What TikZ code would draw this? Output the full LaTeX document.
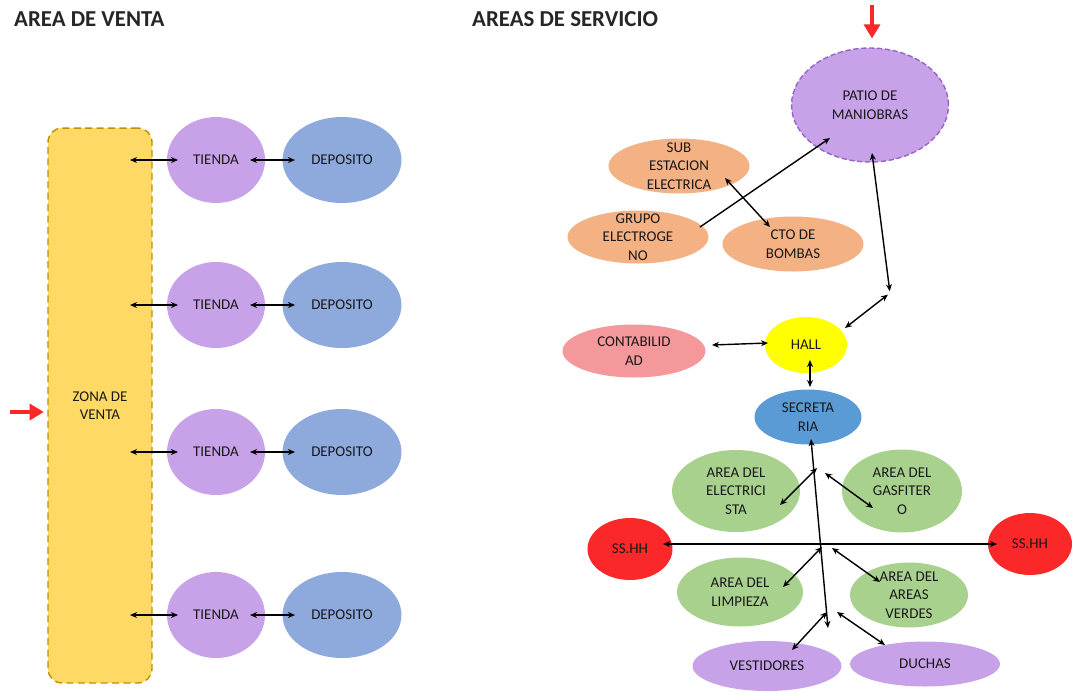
\documentclass[tikz,border=0pt]{standalone}
\usepackage{fontspec}
\setmainfont{Carlito}
\usepackage{tikz}
\usetikzlibrary{
    arrows.meta,
    calc,
    shapes.geometric
}
\definecolor{lila}{RGB}{200,162,232}
\definecolor{lilab}{RGB}{150,100,200}
\definecolor{azul}{RGB}{142,169,219}
\definecolor{zonaf}{RGB}{255,217,102}
\definecolor{zonab}{RGB}{191,144,0}
\definecolor{naranja}{RGB}{244,177,131}
\definecolor{rosa}{RGB}{245,152,155}
\definecolor{amarillo}{RGB}{255,255,0}
\definecolor{celeste}{RGB}{91,155,213}
\definecolor{verde}{RGB}{169,209,142}
\definecolor{rojo}{RGB}{250,40,40}

\begin{document}
\begin{tikzpicture}[x=0.02cm,y=-0.02cm,
   ell/.style={ellipse,draw=none,inner sep=0pt},
   sz/.style 2 args={minimum width=#1cm,minimum height=#2cm},
   tnd/.style={ell,fill=lila,sz={1.96}{1.72}},
   dep/.style={ell,fill=azul,sz={2.38}{1.72}},
   every label/.style={align=center,font=\fontsize{8.5}{10.5}\selectfont,text=black!90},
   dbl/.style={{Stealth[length=4pt,width=3.4pt]}-{Stealth[length=4pt,width=3.4pt]},line width=0.8pt},
   entry/.style={-{Triangle[length=8pt,width=9pt]},line width=2.4pt,draw=rojo},
   ttl/.style={anchor=west,font=\fontsize{13}{15}\selectfont\bfseries,text=black!85}]
  \useasboundingbox (0,0) rectangle (1076,691);
  % titles
  \node[ttl](tv) at (8,19){AREA DE VENTA};
  \node[ttl](ts) at (466,19){AREAS DE SERVICIO};
  % area de venta
  \node[draw=zonab,fill=zonaf,line width=0.8pt,dash pattern=on 4pt off 2.5pt,rounded corners=8pt,
        sz={2.08}{11.1},align=center,font=\fontsize{8.5}{10.5}\selectfont,text=black!90]
        (zona) at (100,405.5){ZONA DE\\VENTA};
  \coordinate (inv) at (10,412);
  \draw[entry,shorten >=2pt] (inv) -- (inv -| zona.west);
  \node[tnd,label=center:TIENDA](t1) at (216,160){};  \node[dep,label=center:DEPOSITO](d1) at (342,160){};
  \node[tnd,label=center:TIENDA](t2) at (216,305){};  \node[dep,label=center:DEPOSITO](d2) at (342,305){};
  \node[tnd,label=center:TIENDA](t3) at (216,452){};  \node[dep,label=center:DEPOSITO](d3) at (342,452){};
  \node[tnd,label=center:TIENDA](t4) at (216,615){};  \node[dep,label=center:DEPOSITO](d4) at (342,615){};
  \draw[dbl] ($(zona.center|-t1)+(30,0)$) -- ($(t1)+(-38,0)$); \draw[dbl] ($(t1)+(34,0)$) -- ($(d1)+(-47,0)$);
  \draw[dbl] ($(zona.center|-t2)+(30,0)$) -- ($(t2)+(-38,0)$); \draw[dbl] ($(t2)+(34,0)$) -- ($(d2)+(-47,0)$);
  \draw[dbl] ($(zona.center|-t3)+(30,0)$) -- ($(t3)+(-38,0)$); \draw[dbl] ($(t3)+(34,0)$) -- ($(d3)+(-47,0)$);
  \draw[dbl] ($(zona.center|-t4)+(30,0)$) -- ($(t4)+(-38,0)$); \draw[dbl] ($(t4)+(34,0)$) -- ($(d4)+(-47,0)$);
  % areas de servicio: patio y maquinas
  \node[ell,fill=lila,draw=lilab,line width=0.8pt,dash pattern=on 3pt off 1.5pt,sz={3.14}{2.28},
        label=center:{PATIO DE\\MANIOBRAS}](patio) at (870,105){};
  \coordinate (inp) at (872,5);
  \draw[entry,shorten >=5pt] (inp) -- (inp |- patio.north);
  \node[ell,fill=naranja,sz={2.82}{1.10},label=center:{SUB\\ESTACION\\ELECTRICA}](sub) at (679,166){};
  \node[ell,fill=naranja,sz={2.82}{1.06},label=center:{GRUPO\\ELECTROGE\\NO}](grupo) at (638,237){};
  \node[ell,fill=naranja,sz={2.82}{1.10},label=center:{CTO DE\\BOMBAS}](cto) at (793,244){};
  \draw[-{Stealth[length=4pt,width=3.4pt]},line width=0.8pt] ($(grupo)+(62,-10)$) -- ($(patio)+(-40,33)$);
  \draw[dbl] ($(sub)+(46,12)$) -- ($(cto)+(-23,-17)$);
  % hall, contabilidad, secretaria
  \node[ell,fill=amarillo,sz={1.64}{1.12},label=center:HALL](hall) at (806,345){};
  \node[ell,fill=rosa,sz={2.86}{1.06},label=center:{CONTABILID\\AD}](cont) at (634,351){};
  \node[ell,fill=celeste,sz={2.14}{1.10},label=center:{SECRETA\\RIA}](sec) at (808,417){};
  \coordinate (pb) at (890,293);
  \draw[dbl,shorten >=1pt] ($(patio)+(2,48)$) -- (pb);
  \draw[dbl,shorten <=1.5pt] (pb) -- ($(hall)+(39,-17)$);
  \draw[dbl] ($(hall)+(-38,-2)$) -- ($(cont)+(78,-6)$);
  \draw[dbl] ($(hall)+(4,15)$) -- ($(sec)+(2,-30)$);
  % servicios del personal
  \node[ell,fill=verde,sz={2.56}{1.64},label=center:{AREA DEL\\ELECTRICI\\STA}](elec) at (736,491){};
  \node[ell,fill=verde,sz={2.40}{1.66},label=center:{AREA DEL\\GASFITER\\O}](gasf) at (902,491){};
  \node[ell,fill=rojo,sz={1.70}{1.24},label=center:SS.HH](ssl) at (630,549){};
  \node[ell,fill=rojo,sz={1.68}{1.24},label=center:SS.HH](ssr) at (1030,544){};
  \node[ell,fill=verde,sz={2.52}{1.38},label=center:{AREA DEL\\LIMPIEZA}](limp) at (740,592){};
  \node[ell,fill=verde,sz={2.36}{1.30},label=center:{AREA DEL\\AREAS\\VERDES}](verd) at (909,595){};
  \node[ell,fill=lila,sz={2.98}{1.00},label=center:VESTIDORES](vest) at (767,666){};
  \node[ell,fill=lila,sz={3.00}{0.90},label=center:DUCHAS](duch) at (925,664){};
  \coordinate (vb) at (828,628);
  \coordinate (j1) at (821,470); \coordinate (j2) at (827,547); \coordinate (j3) at (832,612);
  \draw[dbl] ($(sec)+(3,22)$) -- (vb);
  \draw[dbl] ($(ssl)+(33,-5)$) -- ($(ssr)+(-33,0)$);
  \draw[dbl] ($(j1)+(-4,-2)$) -- ($(elec)+(44,14)$);
  \draw[dbl] ($(j1)+(4,3)$) -- ($(gasf)+(-29,17)$);
  \draw[dbl] ($(j2)+(-5,0)$) -- ($(limp)+(43,-5)$);
  \draw[dbl] ($(j2)+(5,1)$) -- ($(verd)+(-29,-13)$);
  \draw[dbl] ($(j3)+(-5,0)$) -- ($(vest)+(25,-16)$);
  \draw[dbl] ($(j3)+(5,0)$) -- ($(duch)+(-40,-19)$);
\end{tikzpicture}
\end{document}
